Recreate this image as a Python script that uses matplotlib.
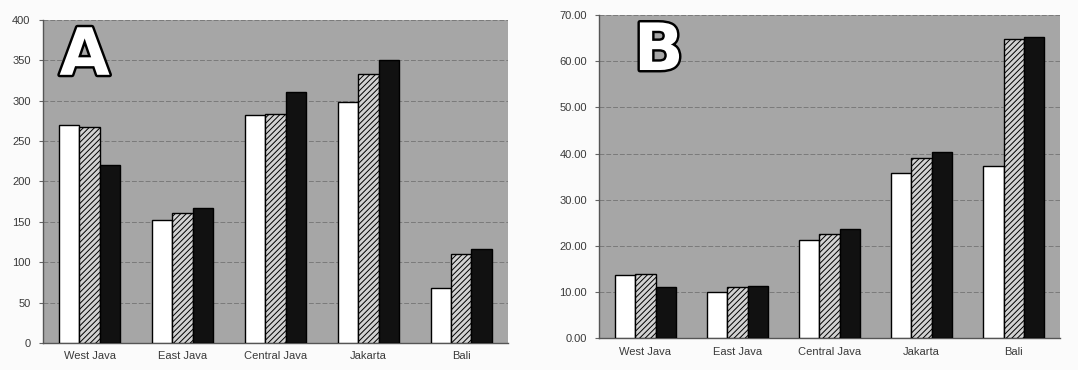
import numpy as np
import matplotlib
matplotlib.use("Agg")
import matplotlib.pyplot as plt
import matplotlib.patheffects as pe

regions = ["West Java", "East Java", "Central Java", "Jakarta", "Bali"]

# panel A values (three series per region)
a_white = [270, 152, 282, 298, 68]
a_hatch = [267, 161, 284, 333, 110]
a_black = [220, 167, 311, 350, 116]

# panel B values
b_white = [13.7, 10.0, 21.3, 35.9, 37.3]
b_hatch = [13.9, 11.0, 22.5, 39.0, 64.8]
b_black = [11.0, 11.3, 23.6, 40.3, 65.2]

plt.rcParams['hatch.color'] = '#8c8c8c'
plt.rcParams['hatch.linewidth'] = 0.7
plt.rcParams['font.family'] = ['Liberation Sans', 'DejaVu Sans']

fig = plt.figure(figsize=(10.78, 3.7), dpi=100)
fig.patch.set_facecolor('#fbfbfb')

axA = fig.add_axes([0.040, 0.073, 0.431, 0.873])
axB = fig.add_axes([0.556, 0.086, 0.427, 0.873])


def draw_panel(ax, white, hatch, black, ymax, step, letter, fmt, lx):
    x = np.arange(len(regions))
    w = 0.22
    ax.set_facecolor('#a6a6a6')
    ax.bar(x - w, white, w, color='white', edgecolor='black', linewidth=1.0, zorder=3)
    ax.bar(x, hatch, w, color='#d2d2d2', edgecolor='black', linewidth=1.0,
           hatch='//////', zorder=3)
    ax.bar(x + w, black, w, color='#111111', edgecolor='black', linewidth=1.0, zorder=3)
    ax.set_xlim(-0.5, len(regions) - 0.5)
    ax.set_ylim(0, ymax)
    ax.set_yticks(np.arange(0, ymax + step / 2, step))
    ax.yaxis.set_major_formatter(matplotlib.ticker.FormatStrFormatter(fmt))
    ax.set_xticks(x)
    ax.set_xticklabels(regions)
    ax.grid(axis='y', color='#7a7a7a', linewidth=0.7, linestyle=(0, (5, 2)), zorder=1)
    ax.tick_params(axis='y', length=3, width=0.8, color='#666666', labelsize=8,
                   labelcolor='#3a3a3a', pad=6)
    ax.tick_params(axis='x', length=0, labelsize=8, labelcolor='#3a3a3a', pad=6)
    for s in ['top', 'right']:
        ax.spines[s].set_visible(False)
    for s in ['left', 'bottom']:
        ax.spines[s].set_color('#555555')
        ax.spines[s].set_linewidth(1.0)
    t = ax.text(lx, 0.985, letter, transform=ax.transAxes, fontsize=47,
                fontweight='bold', family='DejaVu Sans', color='white',
                va='top', ha='left', zorder=5)
    t.set_path_effects([pe.withStroke(linewidth=3.5, foreground='black')])


draw_panel(axA, a_white, a_hatch, a_black, 400, 50, 'A', '%d', 0.035)
draw_panel(axB, b_white, b_hatch, b_black, 70, 10, 'B', '%.2f', 0.075)

fig.savefig('out.png', dpi=100, facecolor=fig.get_facecolor())
